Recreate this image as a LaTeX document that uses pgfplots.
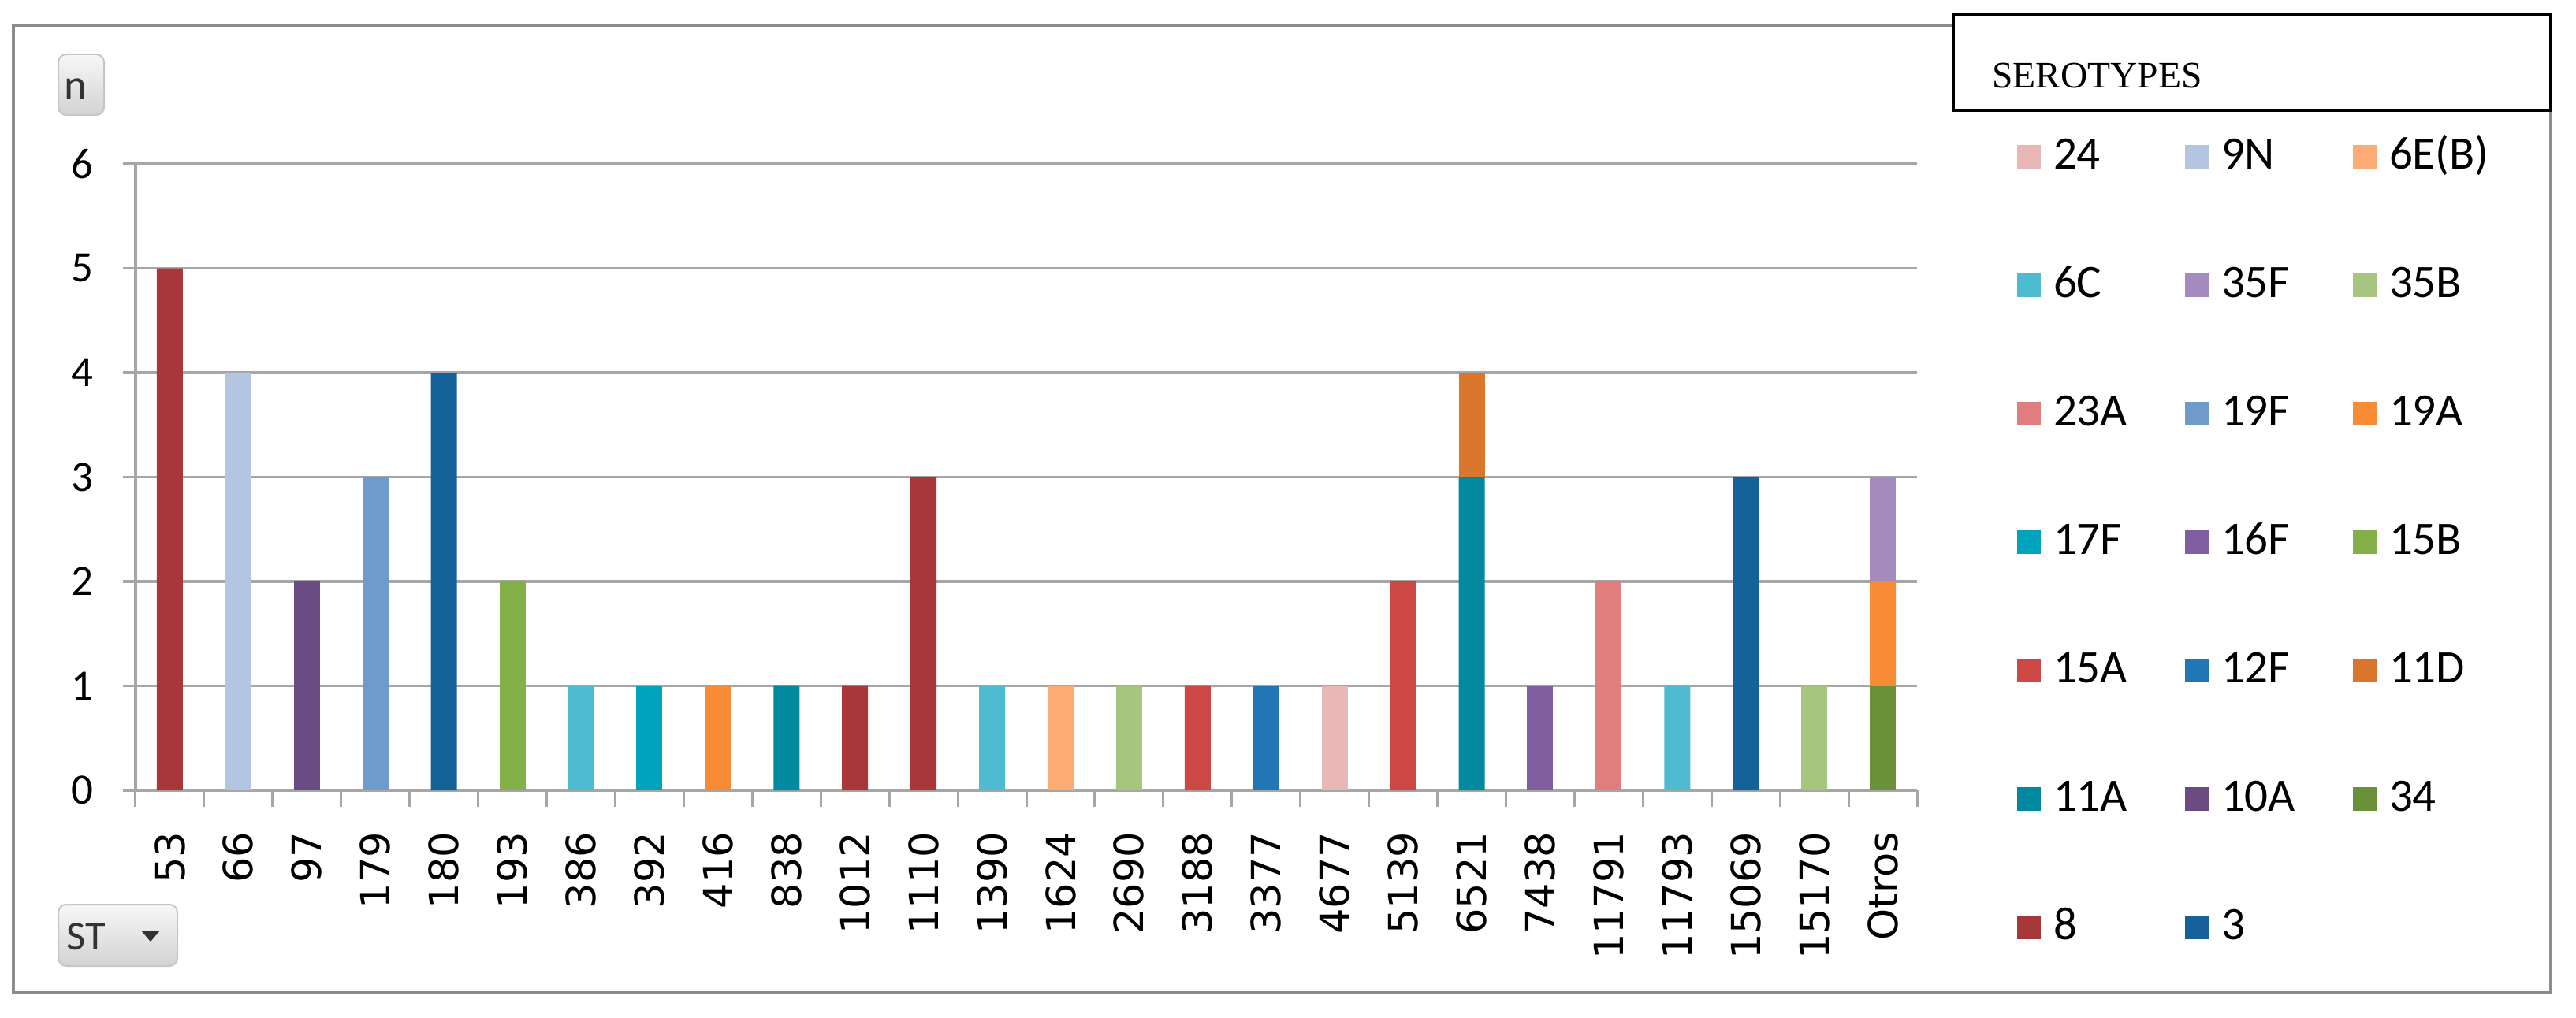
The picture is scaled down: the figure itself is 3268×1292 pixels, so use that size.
\documentclass[border=0pt]{standalone}
\usepackage{fontspec}
\setmainfont{Carlito}
\newfontfamily\dejavu{DejaVu Sans}
\newfontfamily\tnr{Liberation Serif}
\usepackage{pgfplots}
\pgfplotsset{compat=1.18}
\usepackage{pgfplotstable}

\definecolor{c24}{HTML}{E8B7B7}
\definecolor{c9N}{HTML}{B3C5E0}
\definecolor{c6EB}{HTML}{FCAB73}
\definecolor{c6C}{HTML}{4FBBD0}
\definecolor{c35F}{HTML}{A38BBE}
\definecolor{c35B}{HTML}{A6C57E}
\definecolor{c23A}{HTML}{E07D7D}
\definecolor{c19F}{HTML}{6E9ACC}
\definecolor{c19A}{HTML}{F88B35}
\definecolor{c17F}{HTML}{00A3BE}
\definecolor{c16F}{HTML}{805E9F}
\definecolor{c15B}{HTML}{84B04A}
\definecolor{c15A}{HTML}{CD4745}
\definecolor{c12F}{HTML}{2177B5}
\definecolor{c11D}{HTML}{DA772C}
\definecolor{c11A}{HTML}{018A9F}
\definecolor{c10A}{HTML}{6A4B82}
\definecolor{c34}{HTML}{6A9137}
\definecolor{c8}{HTML}{A8373A}
\definecolor{c3}{HTML}{15629A}
\definecolor{gridgray}{HTML}{A6A6A6}
\definecolor{framegray}{HTML}{8C8C8C}

\pgfplotstableread{
idx s3 s8 s34 s10A s11A s11D s12F s15A s15B s16F s17F s19A s19F s23A s35B s35F s6C s6EB s9N s24
0  0 5 0 0 0 0 0 0 0 0 0 0 0 0 0 0 0 0 0 0
1  0 0 0 0 0 0 0 0 0 0 0 0 0 0 0 0 0 0 4 0
2  0 0 0 2 0 0 0 0 0 0 0 0 0 0 0 0 0 0 0 0
3  0 0 0 0 0 0 0 0 0 0 0 0 3 0 0 0 0 0 0 0
4  4 0 0 0 0 0 0 0 0 0 0 0 0 0 0 0 0 0 0 0
5  0 0 0 0 0 0 0 0 2 0 0 0 0 0 0 0 0 0 0 0
6  0 0 0 0 0 0 0 0 0 0 0 0 0 0 0 0 1 0 0 0
7  0 0 0 0 0 0 0 0 0 0 1 0 0 0 0 0 0 0 0 0
8  0 0 0 0 0 0 0 0 0 0 0 1 0 0 0 0 0 0 0 0
9  0 0 0 0 1 0 0 0 0 0 0 0 0 0 0 0 0 0 0 0
10 0 1 0 0 0 0 0 0 0 0 0 0 0 0 0 0 0 0 0 0
11 0 3 0 0 0 0 0 0 0 0 0 0 0 0 0 0 0 0 0 0
12 0 0 0 0 0 0 0 0 0 0 0 0 0 0 0 0 1 0 0 0
13 0 0 0 0 0 0 0 0 0 0 0 0 0 0 0 0 0 1 0 0
14 0 0 0 0 0 0 0 0 0 0 0 0 0 0 1 0 0 0 0 0
15 0 0 0 0 0 0 0 1 0 0 0 0 0 0 0 0 0 0 0 0
16 0 0 0 0 0 0 1 0 0 0 0 0 0 0 0 0 0 0 0 0
17 0 0 0 0 0 0 0 0 0 0 0 0 0 0 0 0 0 0 0 1
18 0 0 0 0 0 0 0 2 0 0 0 0 0 0 0 0 0 0 0 0
19 0 0 0 0 3 1 0 0 0 0 0 0 0 0 0 0 0 0 0 0
20 0 0 0 0 0 0 0 0 0 1 0 0 0 0 0 0 0 0 0 0
21 0 0 0 0 0 0 0 0 0 0 0 0 0 2 0 0 0 0 0 0
22 0 0 0 0 0 0 0 0 0 0 0 0 0 0 0 0 1 0 0 0
23 3 0 0 0 0 0 0 0 0 0 0 0 0 0 0 0 0 0 0 0
24 0 0 0 0 0 0 0 0 0 0 0 0 0 0 1 0 0 0 0 0
25 0 0 1 0 0 0 0 0 0 0 0 1 0 0 0 1 0 0 0 0
}\datatable

\pgfplotsset{sq legend/.style={legend image code/.code={\fill[##1] (0pt,-3pt) rectangle (6pt,3pt);}}}
\newcommand{\lent}[1]{\makebox[30pt][l]{#1}}

\begin{document}
\begin{tikzpicture}
\begin{scope}[x=0.2pt,y=-0.2pt]
\useasboundingbox (0,0) rectangle (3268,1292);
\draw[framegray, line width=0.8pt] (17,32) rectangle (3236,1260);
\end{scope}
\begin{axis}[
  at={(34.4pt,-200.6pt)}, anchor=south west,
  scale only axis, width=452pt, height=159pt,
  xmin=-0.5, xmax=25.5, ymin=0, ymax=6,
  ybar stacked, bar width=6.6pt,
  axis x line*=bottom, axis y line*=left,
  axis line style={-, draw=gridgray, line width=0.7pt},
  ymajorgrids, grid style={draw=gridgray, line width=0.7pt},
  ytick={0,1,2,3,4,5,6},
  xtick={0,...,25},
  xticklabels={53,66,97,179,180,193,386,392,416,838,1012,1110,1390,1624,2690,3188,3377,4677,5139,6521,7438,11791,11793,15069,15170,Otros},
  minor xtick={-0.5,0.5,...,25.5},
  tick align=outside, major tick length=3.2pt, minor tick length=4.2pt,
  major x tick style={draw=none},
  minor x tick style={draw=gridgray, line width=0.6pt},
  y tick style={draw=gridgray, line width=0.7pt},
  /pgf/number format/assume math mode=true,
  yticklabel style={font=\fontsize{11}{13}\selectfont, xshift=-4pt},
  xticklabel shift=3.8pt,
  xticklabel style={rotate=90, anchor=east, font=\dejavu\fontsize{10.2}{11}\selectfont},
  reverse legend,
  legend columns=3,
  legend style={draw=none, fill=none, inner sep=0pt, outer sep=0pt,
    at={(axis description cs:1.0562,1.049)}, anchor=north west,
    font=\fontsize{11.8}{13}\selectfont, row sep=20.6pt,
    /tikz/every even column/.append style={column sep=2.4pt},
    /tikz/every odd column/.append style={column sep=2.2pt},
    nodes={inner sep=1pt, text height=8pt, text depth=2pt}},
]
\addplot[fill=c3, draw=none, sq legend] table[x=idx,y=s3]{\datatable}; \addlegendentry{\lent{3}}
\addplot[fill=c8, draw=none, sq legend] table[x=idx,y=s8]{\datatable}; \addlegendentry{\lent{8}}
\addplot[fill=c34, draw=none, sq legend] table[x=idx,y=s34]{\datatable}; \addlegendentry{\lent{34}}
\addplot[fill=c10A, draw=none, sq legend] table[x=idx,y=s10A]{\datatable}; \addlegendentry{\lent{10A}}
\addplot[fill=c11A, draw=none, sq legend] table[x=idx,y=s11A]{\datatable}; \addlegendentry{\lent{11A}}
\addplot[fill=c11D, draw=none, sq legend] table[x=idx,y=s11D]{\datatable}; \addlegendentry{\lent{11D}}
\addplot[fill=c12F, draw=none, sq legend] table[x=idx,y=s12F]{\datatable}; \addlegendentry{\lent{12F}}
\addplot[fill=c15A, draw=none, sq legend] table[x=idx,y=s15A]{\datatable}; \addlegendentry{\lent{15A}}
\addplot[fill=c15B, draw=none, sq legend] table[x=idx,y=s15B]{\datatable}; \addlegendentry{\lent{15B}}
\addplot[fill=c16F, draw=none, sq legend] table[x=idx,y=s16F]{\datatable}; \addlegendentry{\lent{16F}}
\addplot[fill=c17F, draw=none, sq legend] table[x=idx,y=s17F]{\datatable}; \addlegendentry{\lent{17F}}
\addplot[fill=c19A, draw=none, sq legend] table[x=idx,y=s19A]{\datatable}; \addlegendentry{\lent{19A}}
\addplot[fill=c19F, draw=none, sq legend] table[x=idx,y=s19F]{\datatable}; \addlegendentry{\lent{19F}}
\addplot[fill=c23A, draw=none, sq legend] table[x=idx,y=s23A]{\datatable}; \addlegendentry{\lent{23A}}
\addplot[fill=c35B, draw=none, sq legend] table[x=idx,y=s35B]{\datatable}; \addlegendentry{\lent{35B}}
\addplot[fill=c35F, draw=none, sq legend] table[x=idx,y=s35F]{\datatable}; \addlegendentry{\lent{35F}}
\addplot[fill=c6C, draw=none, sq legend] table[x=idx,y=s6C]{\datatable}; \addlegendentry{\lent{6C}}
\addplot[fill=c6EB, draw=none, sq legend] table[x=idx,y=s6EB]{\datatable}; \addlegendentry{\lent{6E(B)}}
\addplot[fill=c9N, draw=none, sq legend] table[x=idx,y=s9N]{\datatable}; \addlegendentry{\lent{9N}}
\addplot[fill=c24, draw=none, sq legend] table[x=idx,y=s24]{\datatable}; \addlegendentry{\lent{24}}
\end{axis}
\begin{scope}[x=0.2pt,y=-0.2pt]
\draw[black, line width=0.8pt, fill=white] (2478,18) rectangle (3236,140);
\node[anchor=base west, inner sep=0pt, font=\tnr\fontsize{9.5}{11}\selectfont] at (2526,112) {SEROTYPES};
\draw[rounded corners=2pt, draw=gray!45, top color=gray!6, bottom color=gray!35] (74,69) rectangle (132,146);
\node[anchor=base, inner sep=0pt, font=\fontsize{11}{13}\selectfont, text=black!80] at (96,127) {n};
\draw[rounded corners=2pt, draw=gray!45, top color=gray!6, bottom color=gray!35] (74,1148) rectangle (225,1226);
\node[anchor=base west, inner sep=0pt, font=\fontsize{10.5}{13}\selectfont, text=black!80] at (84,1205) {ST};
\fill[black!80] (179,1181) -- (203,1181) -- (191,1195) -- cycle;
\end{scope}
\end{tikzpicture}
\end{document}
